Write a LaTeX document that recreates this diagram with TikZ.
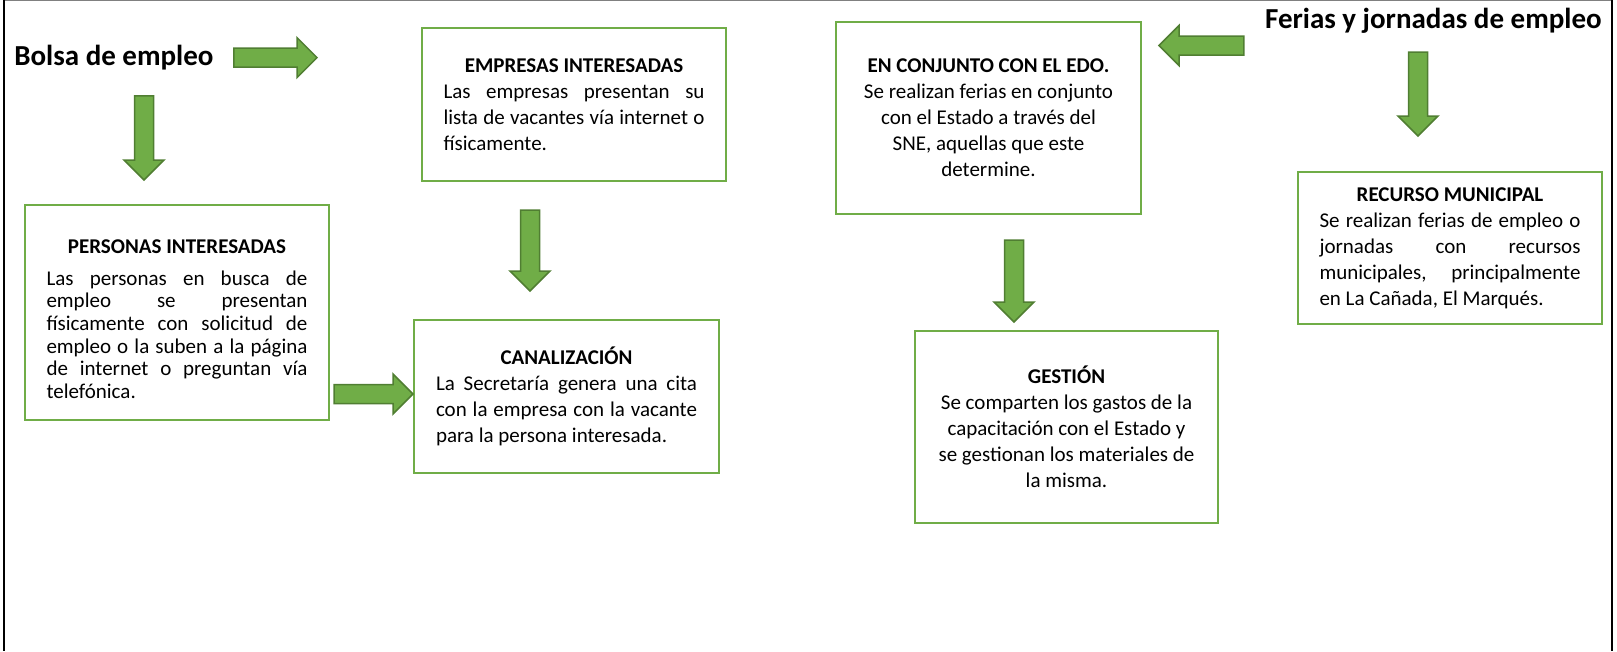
\documentclass[tikz,border=0pt]{standalone}
\usepackage{fontspec}
\setmainfont{Carlito}
\usepackage{tikz}
\usetikzlibrary{calc,positioning}

\definecolor{boxgreen}{HTML}{70AD47}
\definecolor{arrowfill}{HTML}{70AD47}
\definecolor{arrowedge}{HTML}{507E32}

\newcommand{\boxfont}{\fontsize{21}{26}\selectfont}
\newcommand{\headfont}{\fontsize{29}{35}\selectfont\bfseries}
\tolerance=9999
\hyphenpenalty=10000

\begin{document}
\begin{tikzpicture}[x=1pt,y=-1pt,semithick]

   \tikzstyle{box}=[draw=boxgreen,line width=2pt,inner sep=0pt,font=\boxfont,minimum width=304pt]
   \tikzstyle{justbox}=[box,text width=261pt,align=justify]
   \tikzstyle{centbox}=[box,align=center]
   \tikzstyle{heading}=[inner sep=0pt,font=\headfont]
   \tikzstyle{blockarrow}=[draw=arrowedge,fill=arrowfill,line width=1.5pt,
      to path={let \p1=(\tikztostart), \p2=(\tikztotarget),
                   \n1={atan2(\y2-\y1,\x2-\x1)} in
               ($(\p1)+(\n1+90:9.5pt)$)
            -- ($(\p2)+(\n1+180:20pt)+(\n1+90:9.5pt)$)
            -- ($(\p2)+(\n1+180:20pt)+(\n1+90:20pt)$)
            -- (\p2)
            -- ($(\p2)+(\n1+180:20pt)+(\n1-90:20pt)$)
            -- ($(\p2)+(\n1+180:20pt)+(\n1-90:9.5pt)$)
            -- ($(\p1)+(\n1-90:9.5pt)$) -- cycle}]

   \useasboundingbox (0,0) rectangle (1617,651);

   % page frame
   \draw[gray,line width=1pt] (4,0.5) -- (1612,0.5);
   \draw[line width=1.7pt] (4,0) -- (4,651);
   \draw[line width=1.7pt] (1612,0) -- (1612,651);

   % headings
   \node[heading,anchor=base west] (bolsa) at (14,65) {Bolsa de empleo};
   \node[heading,anchor=base east] (ferias) at (1602,28) {Ferias y jornadas de empleo};

   % left column: bolsa de empleo
   \node[justbox,minimum height=215pt,font=\fontsize{21}{22.7}\selectfont] (personas) at (177,312.5)
     {\centerline{\rule{0pt}{27pt}\bfseries PERSONAS INTERESADAS}\vskip9pt
      Las personas en busca de\linebreak empleo se presentan\linebreak
      físicamente con solicitud de\linebreak empleo o la suben a la página\linebreak
      de internet o preguntan vía\linebreak telefónica.};

   \node[justbox,minimum height=153pt] (empresas) at (574,104.5)
     {\centerline{\bfseries EMPRESAS INTERESADAS}
      Las empresas presentan su\linebreak lista de vacantes vía internet o\linebreak
      físicamente.};

   \node[justbox,minimum height=153pt,minimum width=305pt] (canal) at (566.5,396.5)
     {\centerline{\bfseries CANALIZACIÓN}
      La Secretaría genera una cita\linebreak con la empresa con la vacante\linebreak
      para la persona interesada.};

   % right column: ferias y jornadas
   \node[centbox,minimum height=192pt,minimum width=305pt] (conjunto) at (988.5,118)
     {\textbf{EN CONJUNTO CON EL EDO.}\\Se realizan ferias en conjunto\\
      con el Estado a través del\\SNE, aquellas que este\\determine.};

   \node[centbox,minimum height=192pt,minimum width=303pt] (gestion) at (1066.5,427)
     {\textbf{GESTIÓN}\\Se comparten los gastos de la\\capacitación con el Estado y\\
      se gestionan los materiales de\\la misma.};

   \node[justbox,minimum height=152pt] (recurso) at (1450,248)
     {\centerline{\bfseries RECURSO MUNICIPAL}
      Se realizan ferias de empleo o\linebreak jornadas con recursos\linebreak
      municipales, principalmente\linebreak en La Cañada, El Marqués.};

   % block arrows
   \draw[blockarrow] ($(bolsa.east)+(20pt,-0.5pt)$) to ($(empresas.west |- bolsa.east)+(-104pt,-0.5pt)$);
   \draw[blockarrow] ($(bolsa.south -| personas.north)+(-33pt,-26pt)$) to ($(personas.north)+(-33pt,24pt)$);
   \draw[blockarrow] ($(personas.east |- canal.west)+(4pt,2.5pt)$) to ($(canal.west)+(0pt,2.5pt)$);
   \draw[blockarrow] ($(empresas.south)+(-44pt,-28pt)$) to ($(empresas.south |- canal.north)+(-44pt,28pt)$);

   \draw[blockarrow] ($(ferias.west |- conjunto.north)+(-21pt,-24.5pt)$) to ($(conjunto.north east)+(17pt,-24.5pt)$);
   \draw[blockarrow] ($(conjunto.south)+(25.5pt,-25pt)$) to ($(conjunto.south |- gestion.north)+(25.5pt,8pt)$);
   \draw[blockarrow] ($(ferias.south -| recurso.north)+(-32pt,-19pt)$) to ($(recurso.north)+(-32pt,35pt)$);

\end{tikzpicture}
\end{document}
